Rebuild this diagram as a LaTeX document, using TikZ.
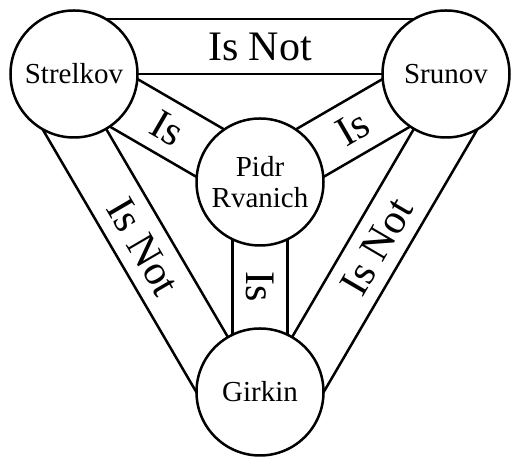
\documentclass[tikz,border=0pt]{standalone}
\usepackage{fontspec}
\setmainfont{Liberation Serif}
\usetikzlibrary{calc,backgrounds}
\definecolor{shieldink}{HTML}{000000}
\tikzset{
  person/.style={draw=shieldink,line width=2.5pt,circle,fill=white,minimum size=127,inner sep=0pt,align=center,font=\fontsize{29}{31}\selectfont},
  bandline/.style={draw=shieldink,line width=2.5pt},
  bandtext/.style={text=shieldink,inner sep=0pt,font=\fontsize{42}{46}\selectfont},
}
\newcommand{\shieldband}[5]{%
  \pgfmathsetmacro{\bandmid}{(#3+#4)/2}
  \begin{scope}[on background layer]
    \draw[bandline] ($(#1.center)!#3pt!90:(#2.center)$) -- ($(#2.center)!#3pt!-90:(#1.center)$);
    \draw[bandline] ($(#1.center)!#4pt!90:(#2.center)$) -- ($(#2.center)!#4pt!-90:(#1.center)$);
    \path ($(#1.center)!\bandmid pt!90:(#2.center)$) -- ($(#2.center)!\bandmid pt!-90:(#1.center)$) node[bandtext,midway,sloped] {#5};
  \end{scope}
}

\begin{document}
\begin{tikzpicture}[x=1pt,y=1pt]
        \useasboundingbox (0,0) rectangle (525,470);
        \node[person] (strelkov) at (74,396) {Strelkov};
        \node[person] (srunov) at (446,396) {Srunov};
        \node[person] (pidr) at (260,288) {Pidr\\Rvanich};
        \node[person] (girkin) at (260,78) {Girkin};
        \shieldband{strelkov}{srunov}{0}{55}{Is Not}
        \shieldband{strelkov}{girkin}{0}{-55}{Is Not}
        \shieldband{girkin}{srunov}{0}{-55}{Is Not}
        \shieldband{strelkov}{pidr}{-27.5}{27.5}{Is}
        \shieldband{pidr}{srunov}{-27.5}{27.5}{Is}
        \shieldband{pidr}{girkin}{-27.5}{27.5}{Is}
      \end{tikzpicture}
\end{document}
